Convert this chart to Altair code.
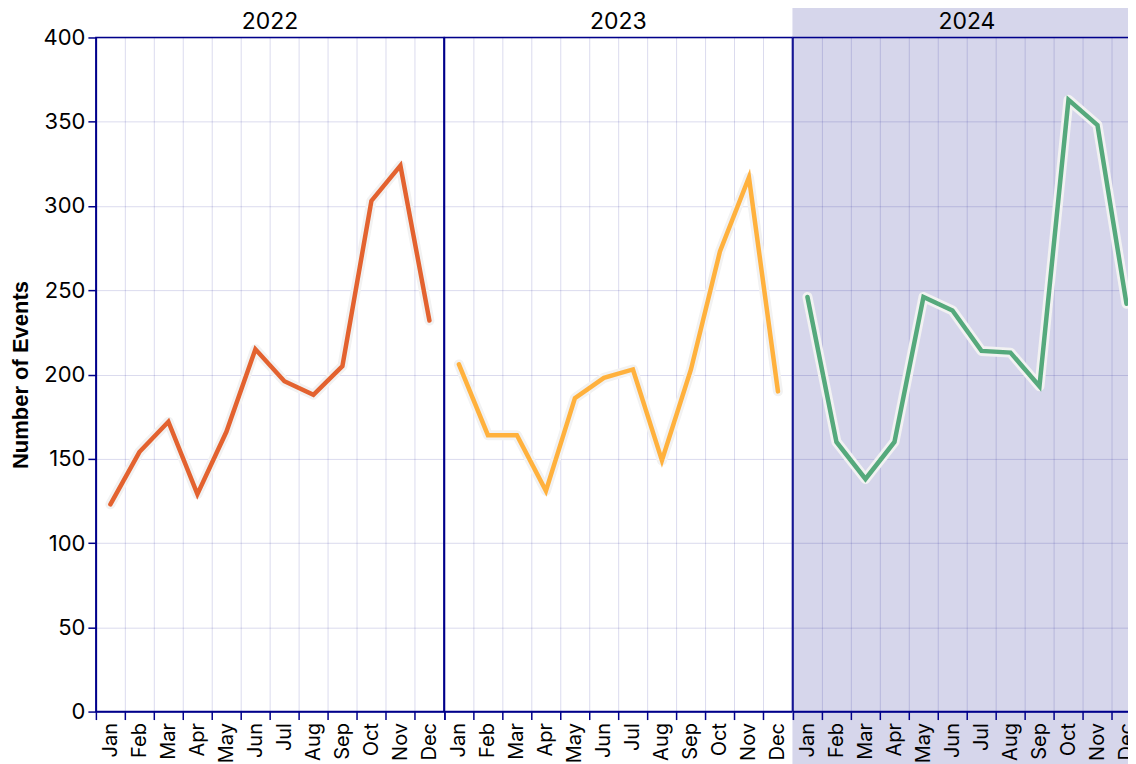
import altair as alt
import pandas as pd

months = ["Jan", "Feb", "Mar", "Apr", "May", "Jun", "Jul", "Aug", "Sep", "Oct", "Nov", "Dec"]
years = ["2022", "2023", "2024"]
events_2022 = [123, 154, 172, 129, 166, 215, 196, 188, 205, 303, 324, 232]
events_2023 = [206, 164, 164, 131, 186, 198, 203, 149, 203, 273, 317, 190]
events_2024 = [246, 160, 138, 160, 246, 238, 214, 213, 193, 363, 348, 242]
series = [events_2022, events_2023, events_2024]
colors = ["#e3622f", "#ffb13d", "#55a97c"]
y_ticks = [0, 50, 100, 150, 200, 250, 300, 350, 400]

W, H = 348.5, 675
NAVY = "#00008b"
LFONT = "Inter"
TFONT = "Liberation Sans"
SHADE = "#d6d6eb"
TOP = -40


def panel(i):
    df = pd.DataFrame({"month": months, "events": series[i]})
    x = alt.X(
        "month:N",
        sort=months,
        scale=alt.Scale(type="band", paddingInner=0, paddingOuter=0),
        axis=alt.Axis(title=None, labelAngle=-90, tickBand="extent", grid=True,
                      labelFontSize=20),
    )
    if i == 0:
        yaxis = alt.Axis(title="Number of Events", values=y_ticks, grid=True,
                         titlePadding=11)
    else:
        yaxis = alt.Axis(title=None, values=y_ticks, grid=True, labels=False,
                         ticks=False, domain=False)
    y = alt.Y("events:Q", scale=alt.Scale(domain=[0, 400]), axis=yaxis)
    halo = alt.Chart(df).mark_line(color="#f2f2f2", strokeWidth=10,
                                   strokeCap="round", strokeJoin="round").encode(x=x, y=y)
    line = alt.Chart(df).mark_line(color=colors[i], strokeWidth=4.5,
                                   strokeCap="round").encode(x=x, y=y)
    # background band: in the 2023 panel it shades the following (2024) panel,
    # elsewhere it is invisible and only keeps every panel's top edge equal
    if i == 1:
        bg = alt.Chart(pd.DataFrame({"k": [0]})).mark_rect(color=SHADE).encode(
            x=alt.value(W), x2=alt.value(2 * W),
            y=alt.value(TOP), y2=alt.value(H + 60))
    else:
        bg = alt.Chart(pd.DataFrame({"k": [0]})).mark_rect(opacity=0).encode(
            x=alt.value(0), x2=alt.value(W),
            y=alt.value(TOP), y2=alt.value(H))
    header = alt.Chart(pd.DataFrame({"year": [years[i]]})).mark_text(
        font=LFONT, fontSize=23, color="black", align="center", baseline="alphabetic"
    ).encode(text="year:N", x=alt.value(W / 2), y=alt.value(-8))
    return alt.layer(bg, halo, line, header).properties(width=W, height=H)


chart = alt.hconcat(panel(0), panel(1), panel(2), spacing=0, bounds="flush").properties(
    padding={"left": 0, "top": -12, "right": -15.5, "bottom": 0},
    background="white",
).configure_view(
    stroke=NAVY, strokeWidth=1.5
).configure_axis(
    domainColor=NAVY, domainWidth=1.5, tickColor=NAVY, tickWidth=1.5, tickSize=8,
    gridColor=NAVY, gridOpacity=0.15, gridWidth=1,
    labelFont=LFONT, labelFontSize=22, labelColor="black", labelPadding=3,
    titleFont=TFONT, titleFontSize=22, titleFontWeight="bold", titleColor="black",
)

chart.save("out.html", embed_options={"renderer": "svg", "actions": False})
